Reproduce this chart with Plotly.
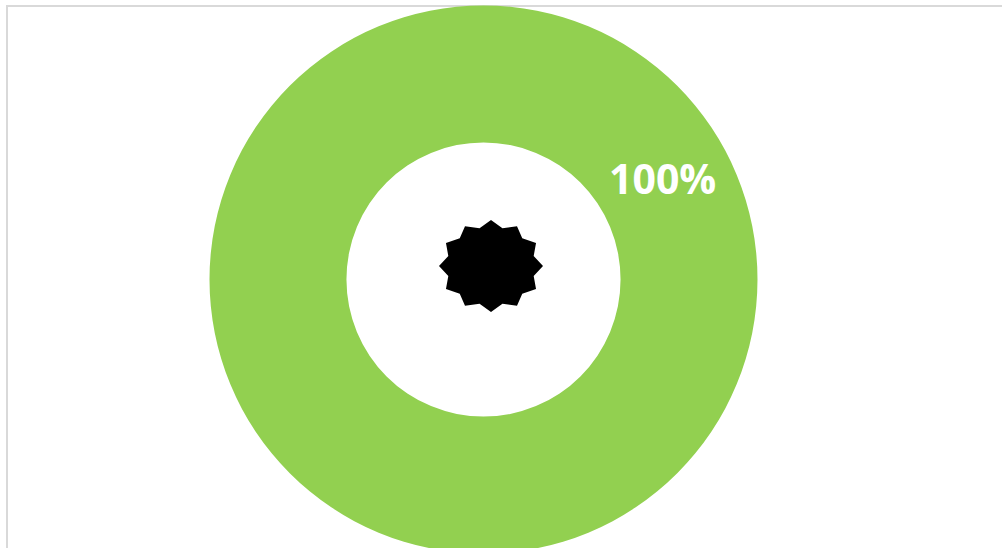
import math
import plotly.graph_objects as go

W, H = 1002, 560  # slightly taller than the window: the ring runs off the bottom edge

categories = ["Complete"]
values = [100]
label_text = "100%"

GREEN = "#92D050"
BORDER = "#D9D9D9"

# decorative 12-point star in the middle of the ring
star_cx, star_cy, star_rx, star_ry, star_inner, star_points = 491, 266, 52, 46, 0.85, 12
star_x, star_y = [], []
for i in range(star_points * 2 + 1):
    a = math.pi * i / star_points
    k = 1 if i % 2 == 0 else star_inner
    star_x.append(star_cx + star_rx * k * math.sin(a))
    star_y.append(star_cy - star_ry * k * math.cos(a))

fig = go.Figure()
fig.add_trace(go.Pie(
    labels=categories, values=values, hole=0.5, sort=False,
    marker=dict(colors=[GREEN], line=dict(width=0)),
    textinfo="none", showlegend=False, hoverinfo="label+percent",
    domain=dict(x=[209.5 / W, 757.5 / W], y=[1 - 553.5 / H, 1 - 5.5 / H]),
))
fig.add_trace(go.Scatter(
    x=star_x, y=star_y, mode="lines", fill="toself", fillcolor="#000000",
    line=dict(color="#000000", width=0), showlegend=False, hoverinfo="skip",
))
fig.update_layout(
    width=W, height=H, margin=dict(l=0, r=0, t=0, b=0),
    paper_bgcolor="white", plot_bgcolor="rgba(0,0,0,0)",
    xaxis=dict(range=[0, W], visible=False, fixedrange=True),
    yaxis=dict(range=[H, 0], visible=False, fixedrange=True),
    shapes=[
        dict(type="line", xref="x", yref="y", x0=7, x1=W, y0=6, y1=6, line=dict(color=BORDER, width=2), layer="below"),
        dict(type="line", xref="x", yref="y", x0=7, x1=7, y0=5, y1=H, line=dict(color=BORDER, width=2), layer="below"),
    ],
    annotations=[dict(
        x=662, y=177.5, xref="x", yref="y", text="<b>%s</b>" % label_text, showarrow=False,
        font=dict(family="Open Sans, sans-serif", size=41, color="white"),
    )],
)
fig.write_html(
    "out.html",
    config=dict(displayModeBar=False),
    post_script="document.documentElement.style.overflow='hidden';document.body.style.overflow='hidden';document.body.style.margin='0';",
)
